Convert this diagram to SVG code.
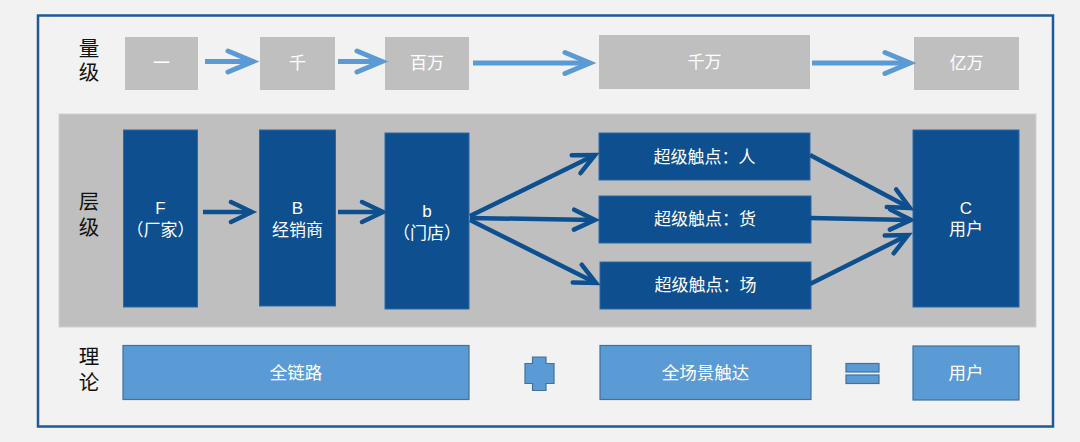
<svg xmlns="http://www.w3.org/2000/svg" width="1080" height="442" viewBox="0 0 1080 442">
<defs>
<style>
text{font-family:"Liberation Sans","Noto Sans CJK SC",sans-serif;text-anchor:middle;dominant-baseline:central}
.lbl{font-size:20.5px;fill:#111}
.wt{fill:#fff;font-size:17px}
.big{font-size:17.5px}
.gray{fill:#bfbfbf}
.dark{fill:#0d4f8f;stroke:#2e6aa3;stroke-width:1}
.light{fill:#5b9bd5;stroke:#41719c;stroke-width:1.2}
.la{stroke:#5b9bd5;stroke-width:5;fill:none}
.da{stroke:#0d4f8f;stroke-width:4.5;fill:none}
</style>
<marker id="ahL" markerUnits="userSpaceOnUse" viewBox="-32 -16 36 32" refX="0" refY="0" markerWidth="36" markerHeight="32" orient="auto" overflow="visible">
<path d="M-25,-10.5 L0,0 L-25,10.5" fill="none" stroke="#5b9bd5" stroke-width="5" stroke-linecap="round" stroke-linejoin="miter"/>
</marker>
<marker id="ahD" markerUnits="userSpaceOnUse" viewBox="-32 -16 36 32" refX="0" refY="0" markerWidth="36" markerHeight="32" orient="auto" overflow="visible">
<path d="M-21,-10 L0,0 L-21,10" fill="none" stroke="#0d4f8f" stroke-width="4.5" stroke-linecap="round" stroke-linejoin="miter"/>
</marker>
</defs>
<rect width="1080" height="442" fill="#f2f2f2"/>
<rect x="38" y="15.5" width="1015" height="411" fill="#f2f2f2" stroke="#1b5a9c" stroke-width="2.5"/>
<rect x="59" y="114" width="977" height="213" fill="#bfbfbf" stroke="#d0d0d0" stroke-width="1"/>

<g id="row-labels">
<text class="lbl" x="89" y="48">量</text>
<text class="lbl" x="89" y="72">级</text>
<text class="lbl" x="89" y="201">层</text>
<text class="lbl" x="89" y="227">级</text>
<text class="lbl" x="89" y="356">理</text>
<text class="lbl" x="89" y="382">论</text>
</g>

<g id="n-yi"><rect class="gray" x="125" y="37" width="73" height="53"/><text class="wt" x="161.5" y="63">一</text></g>
<g id="n-qian"><rect class="gray" x="260" y="37" width="75" height="53"/><text class="wt" x="297.5" y="63">千</text></g>
<g id="n-baiwan"><rect class="gray" x="385" y="37" width="84" height="53"/><text class="wt" x="427" y="63">百万</text></g>
<g id="n-qianwan"><rect class="gray" x="599" y="35" width="211" height="54"/><text class="wt" x="704.5" y="62">千万</text></g>
<g id="n-yiwan"><rect class="gray" x="914" y="37" width="105" height="53"/><text class="wt" x="966.5" y="63">亿万</text></g>

<g id="n-F"><rect class="dark" x="123.5" y="130" width="74" height="177"/><text class="wt" x="160.5" y="208">F</text><text class="wt" x="160.5" y="230">（厂家）</text></g>
<g id="n-B"><rect class="dark" x="259.5" y="130" width="76" height="176"/><text class="wt" x="297.5" y="208">B</text><text class="wt" x="297.5" y="230">经销商</text></g>
<g id="n-b"><rect class="dark" x="385" y="133" width="84" height="176"/><text class="wt" x="427" y="211">b</text><text class="wt" x="427" y="233">（门店）</text></g>
<g id="n-ren"><rect class="dark" x="599" y="133" width="211" height="47"/><text class="wt" x="704.5" y="157">超级触点：人</text></g>
<g id="n-huo"><rect class="dark" x="599" y="196" width="212" height="47"/><text class="wt" x="705" y="219">超级触点：货</text></g>
<g id="n-chang"><rect class="dark" x="600" y="262" width="211" height="47"/><text class="wt" x="705.5" y="285">超级触点：场</text></g>
<g id="n-C"><rect class="dark" x="913" y="130" width="106" height="177"/><text class="wt" x="966" y="208">C</text><text class="wt" x="966" y="229">用户</text></g>

<g id="n-quanlianlu"><rect class="light" x="123" y="345.5" width="346" height="54"/><text class="wt big" x="296" y="373">全链路</text></g>
<g id="n-plus"><path class="light" d="M532.5,357 H546 V363.5 H554 V383.5 H546 V390.5 H532.5 V383.5 H525 V363.5 H532.5 Z"/></g>
<g id="n-quanchangjing"><rect class="light" x="600" y="345.5" width="211" height="54"/><text class="wt big" x="705.5" y="373">全场景触达</text></g>
<g id="n-equals"><rect class="light" x="846" y="363.5" width="33" height="8.5"/><rect class="light" x="846" y="375" width="33" height="8.5"/></g>
<g id="n-yonghu"><rect class="light" x="913" y="346" width="106" height="54"/><text class="wt big" x="966" y="373">用户</text></g>

<g id="connectors">
<line class="la" x1="205" y1="61.5" x2="253" y2="61.5" marker-end="url(#ahL)"/>
<line class="la" x1="338" y1="61.5" x2="382" y2="61.5" marker-end="url(#ahL)"/>
<line class="la" x1="473" y1="63" x2="590" y2="63" marker-end="url(#ahL)"/>
<line class="la" x1="812" y1="63" x2="910" y2="63" marker-end="url(#ahL)"/>
<line class="da" x1="203" y1="212" x2="252" y2="212" marker-end="url(#ahD)"/>
<line class="da" x1="338" y1="212" x2="383" y2="212" marker-end="url(#ahD)"/>
<line class="da" x1="470" y1="216" x2="595" y2="155" marker-end="url(#ahD)"/>
<line class="da" x1="470" y1="218" x2="595" y2="220" marker-end="url(#ahD)"/>
<line class="da" x1="470" y1="220" x2="596" y2="283" marker-end="url(#ahD)"/>
<line class="da" x1="810" y1="155" x2="910" y2="208" marker-end="url(#ahD)"/>
<line class="da" x1="810" y1="218" x2="911" y2="220" marker-end="url(#ahD)"/>
<line class="da" x1="810" y1="284" x2="908" y2="235" marker-end="url(#ahD)"/>
</g>
</svg>
